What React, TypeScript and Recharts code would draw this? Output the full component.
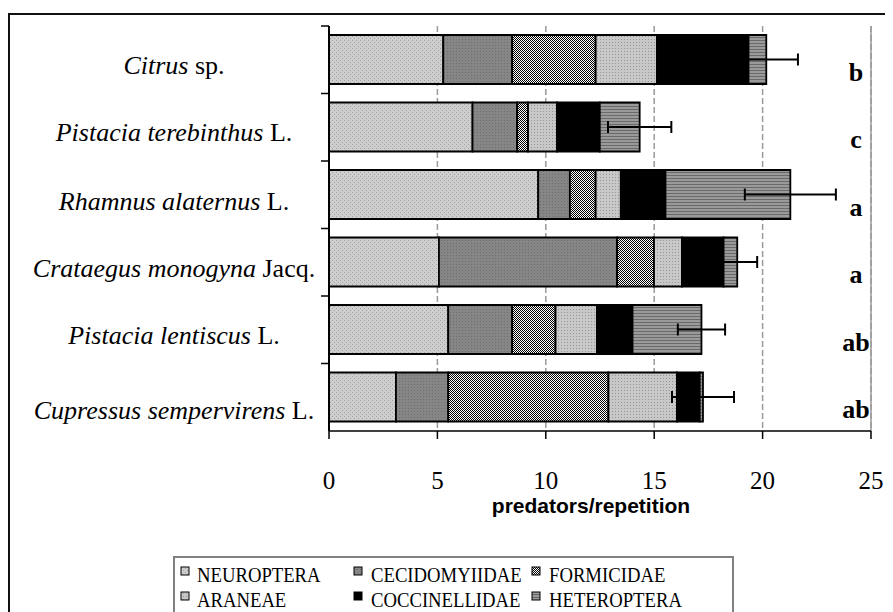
import React from 'react';
import { BarChart, Bar, XAxis, YAxis, CartesianGrid, ErrorBar, ReferenceLine, Label } from 'recharts';

// ---- data ----
const speciesItalic = ['Citrus', 'Pistacia terebinthus', 'Rhamnus alaternus', 'Crataegus monogyna', 'Pistacia lentiscus', 'Cupressus sempervirens'];
const speciesAuthor = ['sp.', 'L.', 'L.', 'Jacq.', 'L.', 'L.'];
const groupLetters = ['b', 'c', 'a', 'a', 'ab', 'ab'];

const neuroptera = [5.27, 6.62, 9.65, 5.07, 5.5, 3.09];
const cecidomyiidae = [3.18, 2.06, 1.46, 8.22, 2.95, 2.41];
const formicidae = [3.85, 0.5, 1.19, 1.7, 2.0, 7.39];
const araneae = [2.83, 1.34, 1.16, 1.29, 1.91, 3.16];
const coccinellidae = [4.22, 1.97, 2.06, 1.92, 1.64, 1.05];
const heteroptera = [0.82, 1.84, 5.76, 0.63, 3.18, 0.15];
const totalError = [1.46, 1.46, 2.1, 0.92, 1.09, 1.43];

const seriesNames = ['NEUROPTERA', 'CECIDOMYIIDAE', 'FORMICIDAE', 'ARANEAE', 'COCCINELLIDAE', 'HETEROPTERA'];
const seriesValues = [neuroptera, cecidomyiidae, formicidae, araneae, coccinellidae, heteroptera];
const xTicks = [0, 5, 10, 15, 20, 25];

const data = speciesItalic.map((s, i) => {
  const row: any = { name: s + ' ' + speciesAuthor[i], italic: s, author: speciesAuthor[i], letter: groupLetters[i], err: totalError[i] };
  seriesNames.forEach((k, j) => { row[k] = seriesValues[j][i]; });
  return row;
});

// ---- styles ----
const fills = ['url(#pNeu)', 'url(#pCec)', 'url(#pFor)', 'url(#pAra)', '#000000', 'url(#pHet)'];
const serif = '"Liberation Serif", "Times New Roman", serif';
const sans = '"Liberation Sans", Arial, sans-serif';
const labelBaseline = [14, 14, 15, 15, 14, 22];

const Patterns = () => (
  <defs>
    <pattern id="pNeu" width="4" height="4" patternUnits="userSpaceOnUse">
      <rect width="4" height="4" fill="#cecece" />
      <rect x="0" y="0" width="1" height="1" fill="#a2a2a2" />
      <rect x="2" y="2" width="1" height="1" fill="#a2a2a2" />
    </pattern>
    <pattern id="pCec" width="3" height="3" patternUnits="userSpaceOnUse">
      <rect width="3" height="3" fill="#868686" />
      <rect x="1" y="1" width="1" height="1" fill="#6e6e6e" />
    </pattern>
    <pattern id="pFor" width="2" height="2" patternUnits="userSpaceOnUse">
      <rect width="2" height="2" fill="#ffffff" />
      <rect x="0" y="0" width="1" height="1" fill="#000000" />
      <rect x="1" y="1" width="1" height="1" fill="#000000" />
    </pattern>
    <pattern id="pAra" width="3" height="3" patternUnits="userSpaceOnUse">
      <rect width="3" height="3" fill="#c8c8c8" />
      <rect x="1" y="1" width="1" height="1" fill="#969696" />
    </pattern>
    <pattern id="pHet" width="3" height="3" patternUnits="userSpaceOnUse">
      <rect width="3" height="3" fill="#9a9a9a" />
      <rect x="0" y="2" width="3" height="1" fill="#6a6a6a" />
    </pattern>
  </defs>
);

const SpeciesTick = (props: any) => {
  const { x, y, payload } = props;
  const i = payload.index;
  const off = payload.offset != null && payload.offset > 0 ? payload.offset : 33.75;
  return (
    <g>
      <line x1={x - 8} x2={x} y1={y - off} y2={y - off} stroke="#000" strokeWidth={1.5} />
      <text x={x - 155} y={y + labelBaseline[i]} textAnchor="middle" fontFamily={serif} fontSize={26} fill="#000">
        <tspan fontStyle="italic">{data[i].italic}</tspan>
        <tspan>{' ' + data[i].author}</tspan>
      </text>
    </g>
  );
};

const LetterTick = (props: any) => {
  const { x, y, payload } = props;
  const i = payload.index;
  return (
    <text x={x - 15} y={y + 21} textAnchor="middle" fontFamily={serif} fontSize={26} fontWeight="bold" fill="#000">
      {data[i].letter}
    </text>
  );
};

const legendSwatchX = [8, 181, 359];
const legendTextX = [24, 198, 376];
const legendSwatchY = [11, 36];
const legendTextY = [26, 51];

const Legend = () => (
  <svg width={580} height={60} style={{ position: 'absolute', left: 165, top: 548 }}>
    <rect x={1} y={1} width={559} height={80} fill="#fff" stroke="#808080" strokeWidth={2} />
    {seriesNames.map((n, j) => {
      const c = j % 3;
      const r = Math.floor(j / 3);
      return (
        <g key={n}>
          <rect x={legendSwatchX[c]} y={legendSwatchY[r]} width={8} height={8} fill={fills[j]} stroke="#000" strokeWidth={1} />
          <text transform={`translate(${legendTextX[c]},${legendTextY[r]}) scale(0.85,1)`} fontFamily={serif} fontSize={22} fill="#000">{n}</text>
        </g>
      );
    })}
  </svg>
);

export default function App() {
  return (
    <div style={{ position: 'relative', width: 885, height: 604, background: '#fff' }}>
      <style>{'html,body{overflow:hidden;}'}</style>
      <div style={{ position: 'absolute', left: 0, top: 5, width: 885, height: 599, borderLeft: '2px solid #111', borderTop: '2px solid #111', boxSizing: 'border-box' }} />
      <div style={{ position: 'absolute', left: 0, top: 0 }}>
        <BarChart
          width={880}
          height={545}
          data={data}
          layout="vertical"
          margin={{ top: 18, right: 16, bottom: 0, left: 21 }}
          barSize={49}
        >
          <Patterns />
          <CartesianGrid horizontal={false} stroke="#9a9a9a" strokeDasharray="6 3" strokeWidth={1.5} />
          <ReferenceLine x={25} stroke="#9a9a9a" strokeWidth={1.5} />
          <XAxis
            type="number"
            domain={[0, 25]}
            ticks={xTicks}
            interval={0}
            height={122}
            tickSize={8}
            tickMargin={32}
            axisLine={{ stroke: '#000', strokeWidth: 1.5 }}
            tickLine={{ stroke: '#000', strokeWidth: 1.5 }}
            tick={{ fontFamily: serif, fontSize: 25, fill: '#000' }}
          >
            <Label value="predators/repetition" position="insideBottom" offset={40} dx={-9} style={{ fontFamily: sans, fontWeight: 'bold', fontSize: 21, fill: '#000' }} />
          </XAxis>
          <YAxis
            type="category"
            dataKey="name"
            width={300}
            tickSize={0}
            tickMargin={0}
            tickLine={false}
            axisLine={{ stroke: '#000', strokeWidth: 2 }}
            tick={<SpeciesTick />}
            interval={0}
          />
          <YAxis
            yAxisId="r"
            orientation="right"
            type="category"
            dataKey="name"
            width={1}
            tickSize={0}
            tickMargin={0}
            tickLine={false}
            axisLine={false}
            tick={<LetterTick />}
            interval={0}
          />
          {seriesNames.map((k, j) => (
            <Bar key={k} dataKey={k} stackId="s" fill={fills[j]} stroke="#000" strokeWidth={1.8} isAnimationActive={false}>
              {j === seriesNames.length - 1 && (
                <ErrorBar dataKey="err" width={6} stroke="#000" strokeWidth={2} direction="x" />
              )}
            </Bar>
          ))}
        </BarChart>
      </div>
      <Legend />
    </div>
  );
}
